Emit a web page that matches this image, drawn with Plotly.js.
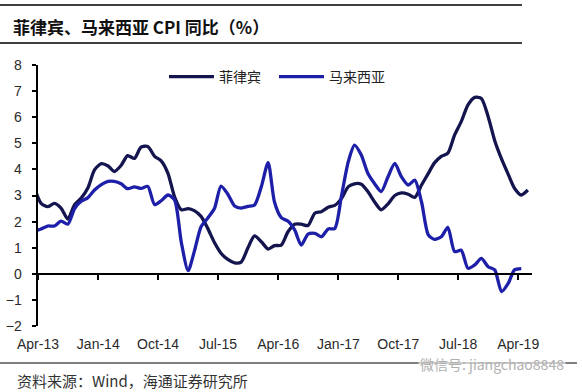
<!DOCTYPE html>
<html>
<head>
<meta charset="utf-8">
<script src="https://cdn.plot.ly/plotly-3.0.1.min.js"></script>
<style>
html,body{margin:0;padding:0;background:#fff;}
#chart{width:582px;height:392px;}
</style>
</head>
<body>
<div id="chart"></div>
<script>
// Months from Mar-2013 to May-2019 (monthly, plotted mid-month)
var startYear = 2013, startMonth = 3, nMonths = 75;
var months = [];
for (var i = 0; i < nMonths; i++) {
  var mm = startMonth - 1 + i;
  var y = startYear + Math.floor(mm / 12);
  var m = (mm % 12) + 1;
  months.push(y + '-' + (m < 10 ? '0' + m : m) + '-15');
}

var seriesNames = ['菲律宾', '马来西亚'];

// Philippines CPI YoY (%), Mar-13 .. May-19
var philippines = [
  3.3, 2.7, 2.57, 2.7, 2.52, 2.1, 2.65, 2.9, 3.3, 3.98,
  4.22, 4.13, 3.92, 4.15, 4.53, 4.42, 4.85, 4.88, 4.5, 4.33, 3.85, 2.95,
  2.45, 2.5, 2.42, 2.2, 1.75, 1.2, 0.79, 0.55, 0.42, 0.45, 1.0, 1.45,
  1.23, 0.95, 1.08, 1.1, 1.6, 1.9, 1.9, 1.85, 2.32, 2.38, 2.55, 2.62,
  2.89, 3.34, 3.45, 3.43, 3.15, 2.75, 2.45, 2.68, 3.0, 3.1, 3.05, 2.93,
  3.4, 3.85, 4.25, 4.5, 4.62, 5.32, 5.83, 6.47, 6.76, 6.72, 6.02, 5.1,
  4.4, 3.8, 3.28, 3.02, 3.21
];

// Malaysia CPI YoY (%), Mar-13 .. Apr-19
var malaysia = [
  1.62, 1.72, 1.83, 1.83, 2.02, 1.9, 2.5, 2.78, 2.92, 3.21,
  3.42, 3.54, 3.54, 3.45, 3.26, 3.33, 3.27, 3.35, 2.65, 2.8, 3.02, 2.83,
  1.2, 0.12, 0.85, 1.8, 2.13, 2.5, 3.36, 3.05, 2.6, 2.52, 2.58, 2.64,
  3.34, 4.26, 2.75, 2.15, 2.02, 1.68, 1.1, 1.52, 1.55, 1.42, 1.72, 1.74,
  3.0, 4.3, 4.93, 4.55, 3.85, 3.45, 3.15, 3.72, 4.23, 3.72, 3.4, 3.59,
  2.75, 1.49, 1.32, 1.42, 1.78, 0.85, 0.9, 0.21, 0.34, 0.59, 0.27, 0.15,
  -0.68, -0.36, 0.15, 0.2
];

var xRange = ['2013-04-01', '2019-06-03'];
var yRange = [-2, 8];

var traces = [
  {
    x: months.slice(0, philippines.length), y: philippines, name: seriesNames[0],
    type: 'scatter', mode: 'lines', xaxis: 'x', yaxis: 'y', legend: 'legend',
    line: {color: '#14144f', width: 3.3, shape: 'spline', smoothing: 0.7}
  },
  {
    x: months.slice(0, malaysia.length), y: malaysia, name: seriesNames[1],
    type: 'scatter', mode: 'lines', xaxis: 'x2', yaxis: 'y', legend: 'legend2',
    line: {color: '#1d1fa8', width: 3.3, shape: 'spline', smoothing: 0.7}
  }
];

var tickFont = {family: 'Liberation Sans, Arial, sans-serif', size: 14, color: '#2a2a2a'};
var cjk = 'Noto Sans CJK SC, sans-serif';
var legendFont = {family: cjk, size: 14, color: '#222222'};

var layout = {
  width: 582, height: 392,
  margin: {l: 38, r: 50, t: 65, b: 66},
  paper_bgcolor: '#ffffff', plot_bgcolor: '#ffffff',
  showlegend: true,
  title: {
    text: '<b>菲律宾、马来西亚 CPI 同比（%）</b>',
    font: {family: cjk, size: 17, color: '#111111'},
    xref: 'container', yref: 'container',
    x: 13 / 582, xanchor: 'left', y: 1 - 28 / 392, yanchor: 'middle'
  },
  legend: {
    orientation: 'h', x: 0.255, xanchor: 'left', y: (326 - 77) / 261, yanchor: 'middle',
    font: legendFont, bgcolor: 'rgba(0,0,0,0)', itemwidth: 45
  },
  legend2: {
    orientation: 'h', x: (274 - 38) / 494, xanchor: 'left', y: (326 - 77) / 261, yanchor: 'middle',
    font: legendFont, bgcolor: 'rgba(0,0,0,0)', itemwidth: 45
  },
  xaxis: {
    type: 'date', range: xRange,
    tick0: '2013-04-01', dtick: 'M9', tickformat: '%b-%y',
    ticks: '', showline: false, showgrid: false, zeroline: false,
    tickfont: tickFont, ticklabelstandoff: 8, fixedrange: true
  },
  xaxis2: {
    type: 'date', range: xRange, overlaying: 'x', anchor: 'free', position: 0.2,
    tick0: '2013-04-01', dtick: 'M9',
    ticks: 'outside', ticklen: 5, tickwidth: 2, tickcolor: '#000000',
    showticklabels: false, showline: true, linecolor: '#000000', linewidth: 2.5,
    showgrid: false, zeroline: false, fixedrange: true
  },
  yaxis: {
    range: yRange, dtick: 1, tick0: 0,
    ticks: 'outside', ticklen: 4, tickwidth: 2, tickcolor: '#000000',
    showline: true, linecolor: '#000000', linewidth: 2.5,
    showgrid: false, zeroline: false,
    tickfont: tickFont, ticklabelstandoff: 7, fixedrange: true
  },
  shapes: [
    {type: 'line', xref: 'paper', yref: 'paper', x0: -38/494, x1: (522-38)/494,
      y0: (326-5)/261, y1: (326-5)/261, line: {color: '#000000', width: 1.5}},
    {type: 'line', xref: 'paper', yref: 'paper', x0: -38/494, x1: (522-38)/494,
      y0: (326-43)/261, y1: (326-43)/261, line: {color: '#000000', width: 1.5}},
    {type: 'line', xref: 'paper', yref: 'paper', x0: -38/494, x1: (577-38)/494,
      y0: (326-363)/261, y1: (326-363)/261, line: {color: '#000000', width: 1.2}}
  ],
  annotations: [
    {text: '资料来源：Wind，海通证券研究所', xref: 'paper', yref: 'paper',
      x: (15-38)/494, xanchor: 'left', y: (326-380)/261, yanchor: 'middle',
      showarrow: false, font: {family: cjk, size: 15, color: '#333333'}},
    {text: '微信号: jiangchao8848', xref: 'paper', yref: 'paper',
      x: (418-38)/494, xanchor: 'left', y: (326-364)/261, yanchor: 'middle',
      showarrow: false, bgcolor: 'rgba(255,255,255,0.6)',
      font: {family: cjk, size: 14, color: '#b0b0b0'}}
  ]
};

Plotly.newPlot('chart', traces, layout, {displayModeBar: false, staticPlot: true});
</script>
</body>
</html>
